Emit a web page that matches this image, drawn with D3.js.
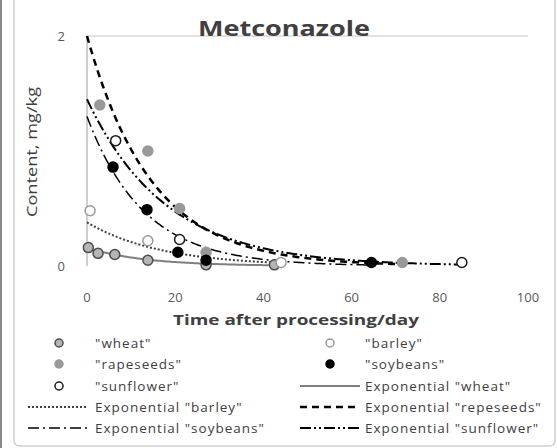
<!DOCTYPE html>
<html>
<head>
<meta charset="utf-8">
<script src="https://cdn.jsdelivr.net/npm/d3@7"></script>
<style>
body { margin: 0; background: #fff; }
text { font-family: "Open Sans", sans-serif; }
</style>
</head>
<body>
<div id="chart"></div>
<script>
// measured points (day, mg/kg)
var wheat = [[0.3, 0.16], [2.5, 0.11], [6.3, 0.10], [13.8, 0.05], [27, 0.01], [42.5, 0.01]];
var barley = [[0.7, 0.48], [13.8, 0.22], [44, 0.03]];
var rapeseeds = [[2.9, 1.40], [13.8, 1.00], [21, 0.50], [27, 0.12], [71.5, 0.03]];
var soybeans = [[5.9, 0.86], [13.6, 0.49], [20.6, 0.12], [27, 0.05], [64.5, 0.03]];
var sunflower = [[6.5, 1.09], [21, 0.23], [85, 0.03]];

// exponential trendlines y = a * exp(b * x)
var trendNames = ["wheat", "barley", "rapeseeds", "soybeans", "sunflower"];
var trendA = [0.16, 0.38, 2.0, 1.3, 1.45];
var trendB = [-0.077, -0.06, -0.068, -0.078, -0.056];
var trendEnd = [42.5, 44, 71.5, 64.5, 85];

var xTicks = [0, 20, 40, 60, 80, 100];
var yTicks = [0, 2];

var svg = d3.select("#chart")
  .append("svg")
  .attr("width", 557)
  .attr("height", 448);

// chart frame
svg.append("line").attr("x1", 1).attr("x2", 1).attr("y1", 0).attr("y2", 448)
  .style("stroke", "#8a8a8a").style("stroke-width", 2);
svg.append("path")
  .attr("d", "M14,0 L14,440 Q14,446 20,446 L549,446 Q555,446 555,440 L555,0")
  .style("fill", "none").style("stroke", "#d0d0d0").style("stroke-width", 1.5);

var x = d3.scaleLinear().domain([0, 100]).range([87, 528]);
var y = d3.scaleLinear().domain([0, 2]).range([266, 36]);

// gridline at 2 and y axis line
svg.append("line")
  .attr("x1", x(0)).attr("x2", x(100)).attr("y1", y(2)).attr("y2", y(2))
  .style("stroke", "#d9d9d9").style("stroke-width", 1.5);
svg.append("line")
  .attr("x1", x(0)).attr("x2", x(0)).attr("y1", y(2)).attr("y2", y(0))
  .style("stroke", "#bfbfbf").style("stroke-width", 1.5);

// tick labels
svg.append("g")
  .selectAll("text")
  .data(xTicks)
  .enter()
  .append("text")
  .attr("x", function (d) { return x(d); })
  .attr("y", 302)
  .attr("text-anchor", "middle")
  .style("font-size", "13px")
  .style("fill", "#595959")
  .text(function (d) { return d; });

svg.append("g")
  .selectAll("text")
  .data(yTicks)
  .enter()
  .append("text")
  .attr("x", 65)
  .attr("y", function (d) { return y(d) + 5; })
  .attr("text-anchor", "end")
  .style("font-size", "13px")
  .style("fill", "#595959")
  .text(function (d) { return d; });

// titles
svg.append("text")
  .attr("x", 284).attr("y", 36)
  .attr("text-anchor", "middle")
  .attr("textLength", 172).attr("lengthAdjust", "spacingAndGlyphs")
  .style("font-size", "22px").style("font-weight", "bold").style("fill", "#404040")
  .text("Metconazole");

svg.append("text")
  .attr("x", 296).attr("y", 325)
  .attr("text-anchor", "middle")
  .attr("textLength", 246).attr("lengthAdjust", "spacingAndGlyphs")
  .style("font-size", "15px").style("font-weight", "bold").style("fill", "#404040")
  .text("Time after processing/day");

svg.append("text")
  .attr("text-anchor", "middle")
  .attr("transform", "translate(37,152)rotate(-90)")
  .attr("textLength", 130).attr("lengthAdjust", "spacingAndGlyphs")
  .style("font-size", "14px").style("fill", "#404040")
  .text("Content, mg/kg");

// line styles per trendline
var trendStyle = [
  {stroke: "#7f7f7f", width: 2, dash: null},
  {stroke: "#404040", width: 2, dash: "2,2"},
  {stroke: "#000", width: 2.5, dash: "7,5"},
  {stroke: "#000", width: 1.5, dash: "11,4,2,4"},
  {stroke: "#000", width: 2, dash: "11,3,2,3,2,3"}
];

var line = d3.line()
  .x(function (d) { return x(d[0]); })
  .y(function (d) { return y(d[1]); });

trendNames.forEach(function (name, i) {
  var pts = d3.range(0, trendEnd[i] + 0.01, 0.5).map(function (t) {
    return [t, trendA[i] * Math.exp(trendB[i] * t)];
  });
  svg.append("path")
    .datum(pts)
    .attr("d", line)
    .style("fill", "none")
    .style("stroke", trendStyle[i].stroke)
    .style("stroke-width", trendStyle[i].width)
    .style("stroke-dasharray", trendStyle[i].dash);
});

// marker styles
var markerStyle = [
  {fill: "#b5b5b5", stroke: "#4d4d4d"},
  {fill: "#fff", stroke: "#9a9a9a"},
  {fill: "#999999", stroke: "#999999"},
  {fill: "#000", stroke: "#000"},
  {fill: "#fff", stroke: "#1a1a1a"}
];
var series = [wheat, barley, rapeseeds, soybeans, sunflower];

series.forEach(function (data, i) {
  svg.append("g")
    .selectAll("circle")
    .data(data)
    .enter()
    .append("circle")
    .attr("cx", function (d) { return x(d[0]); })
    .attr("cy", function (d) { return y(d[1]); })
    .attr("r", 5)
    .style("fill", markerStyle[i].fill)
    .style("stroke", markerStyle[i].stroke)
    .style("stroke-width", 1.5);
});

// legend
var legendLabels = ['"wheat"', '"barley"', '"rapeseeds"', '"soybeans"', '"sunflower"',
  'Exponential "wheat"', 'Exponential "barley"', 'Exponential "repeseeds"',
  'Exponential "soybeans"', 'Exponential "sunflower"'];
var rowY = [343, 364, 386, 407, 428];

legendLabels.forEach(function (label, k) {
  var col = k % 2, row = Math.floor(k / 2);
  var ly = rowY[row];
  var tx = col == 0 ? 95 : 365;
  if (k < 5) {
    svg.append("circle")
      .attr("cx", col == 0 ? 59 : 330).attr("cy", ly)
      .attr("r", 4)
      .style("fill", markerStyle[k].fill)
      .style("stroke", markerStyle[k].stroke)
      .style("stroke-width", 1.5);
  } else {
    var s = trendStyle[k - 5];
    svg.append("line")
      .attr("x1", col == 0 ? 28 : 300).attr("x2", col == 0 ? 87 : 360)
      .attr("y1", ly).attr("y2", ly)
      .style("stroke", s.stroke)
      .style("stroke-width", s.width)
      .style("stroke-dasharray", s.dash);
  }
  svg.append("text")
    .attr("x", tx).attr("y", ly + 5)
    .style("font-size", "13.5px")
    .style("letter-spacing", "1px")
    .style("fill", "#404040")
    .text(label);
});
</script>
</body>
</html>
